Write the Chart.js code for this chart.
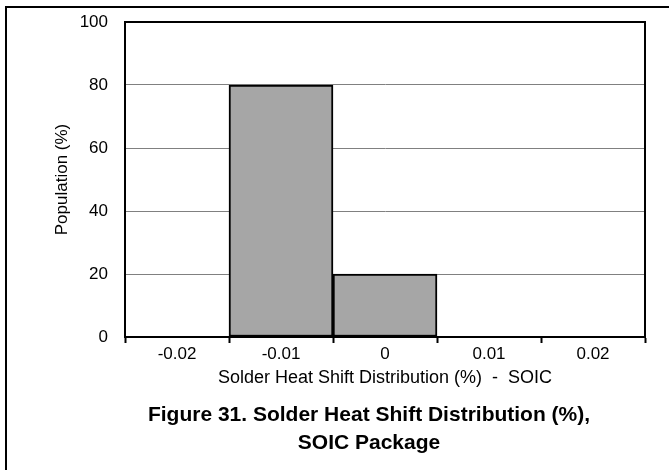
<!DOCTYPE html>
<html>
<head>
<meta charset="utf-8">
<script src="https://cdn.jsdelivr.net/npm/chart.js@4"></script>
<style>
  html, body { margin: 0; padding: 0; background: #fff; }
  #wrap { width: 669px; height: 470px; }
</style>
</head>
<body>
<div id="wrap"><canvas id="chart" width="669" height="470"></canvas></div>
<script>
// Chart data
const categories = ["-0.02", "-0.01", "0", "0.01", "0.02"];
const population = [0, 80, 20, 0, 0];
const yTicks = [0, 20, 40, 60, 80, 100];

const xTitle = "Solder Heat Shift Distribution (%)  -  SOIC";
const yTitle = "Population (%)";
const caption = ["Figure 31. Solder Heat Shift Distribution (%),", "SOIC Package"];

const FONT = "'Liberation Sans', Arial, sans-serif";

// page frame, plot box and caption
const framePlugin = {
    id: "frame",
    beforeDraw(chart) {
        const ctx = chart.ctx;
        ctx.save();
        ctx.fillStyle = "#fff";
        ctx.fillRect(0, 0, chart.width, chart.height);
        ctx.strokeStyle = "#000";
        ctx.lineWidth = 2;
        ctx.beginPath();
        ctx.moveTo(6, chart.height);
        ctx.lineTo(6, 7);
        ctx.lineTo(chart.width, 7);
        ctx.stroke();
        ctx.restore();
    },
    afterDraw(chart) {
        const ctx = chart.ctx;
        const a = chart.chartArea;
        ctx.save();
        ctx.strokeStyle = "#000";
        ctx.lineWidth = 2;
        ctx.strokeRect(a.left, a.top, a.right - a.left, a.bottom - a.top);
        ctx.fillStyle = "#000";
        ctx.font = "bold 21px " + FONT;
        ctx.textAlign = "center";
        ctx.textBaseline = "middle";
        ctx.fillText(caption[0], 369, 415);
        ctx.fillText(caption[1], 369, 443);
        ctx.restore();
    }
};

new Chart(document.getElementById("chart"), {
    type: "bar",
    data: {
        labels: categories,
        datasets: [{
            data: population,
            backgroundColor: "#a6a6a6",
            borderColor: "#000",
            borderWidth: 2,
            borderSkipped: false,
            barPercentage: 1,
            categoryPercentage: 1
        }]
    },
    options: {
        responsive: false,
        animation: false,
        layout: { padding: { top: 22, right: 24, left: 52, bottom: 81 } },
        plugins: {
            legend: { display: false },
            tooltip: { enabled: false }
        },
        scales: {
            x: {
                offset: true,
                afterFit(scale) {
                    scale.height = 52;
                    scale.paddingLeft = 0;
                    scale.paddingRight = 0;
                },
                grid: {
                    offset: true,
                    drawOnChartArea: false,
                    drawTicks: true,
                    tickLength: 6,
                    tickWidth: 2,
                    tickColor: "#000"
                },
                border: { color: "#000", width: 2 },
                ticks: {
                    color: "#000",
                    padding: 1,
                    maxRotation: 0,
                    font: { family: FONT, size: 17 }
                },
                title: {
                    display: true,
                    text: xTitle,
                    color: "#000",
                    padding: 0,
                    font: { family: FONT, size: 18 }
                }
            },
            y: {
                min: 0,
                max: 100,
                afterFit(scale) {
                    scale.width = 73;
                    scale.paddingTop = 0;
                    scale.paddingBottom = 0;
                },
                afterBuildTicks(scale) {
                    scale.ticks = yTicks.map(v => ({ value: v }));
                },
                grid: {
                    color: "#808080",
                    lineWidth: 1,
                    drawTicks: false
                },
                border: { color: "#000", width: 2 },
                ticks: {
                    color: "#000",
                    padding: 17,
                    font: { family: FONT, size: 17 }
                },
                title: {
                    display: true,
                    text: yTitle,
                    color: "#000",
                    padding: 0,
                    font: { family: FONT, size: 17 }
                }
            }
        }
    },
    plugins: [framePlugin]
});
</script>
</body>
</html>
